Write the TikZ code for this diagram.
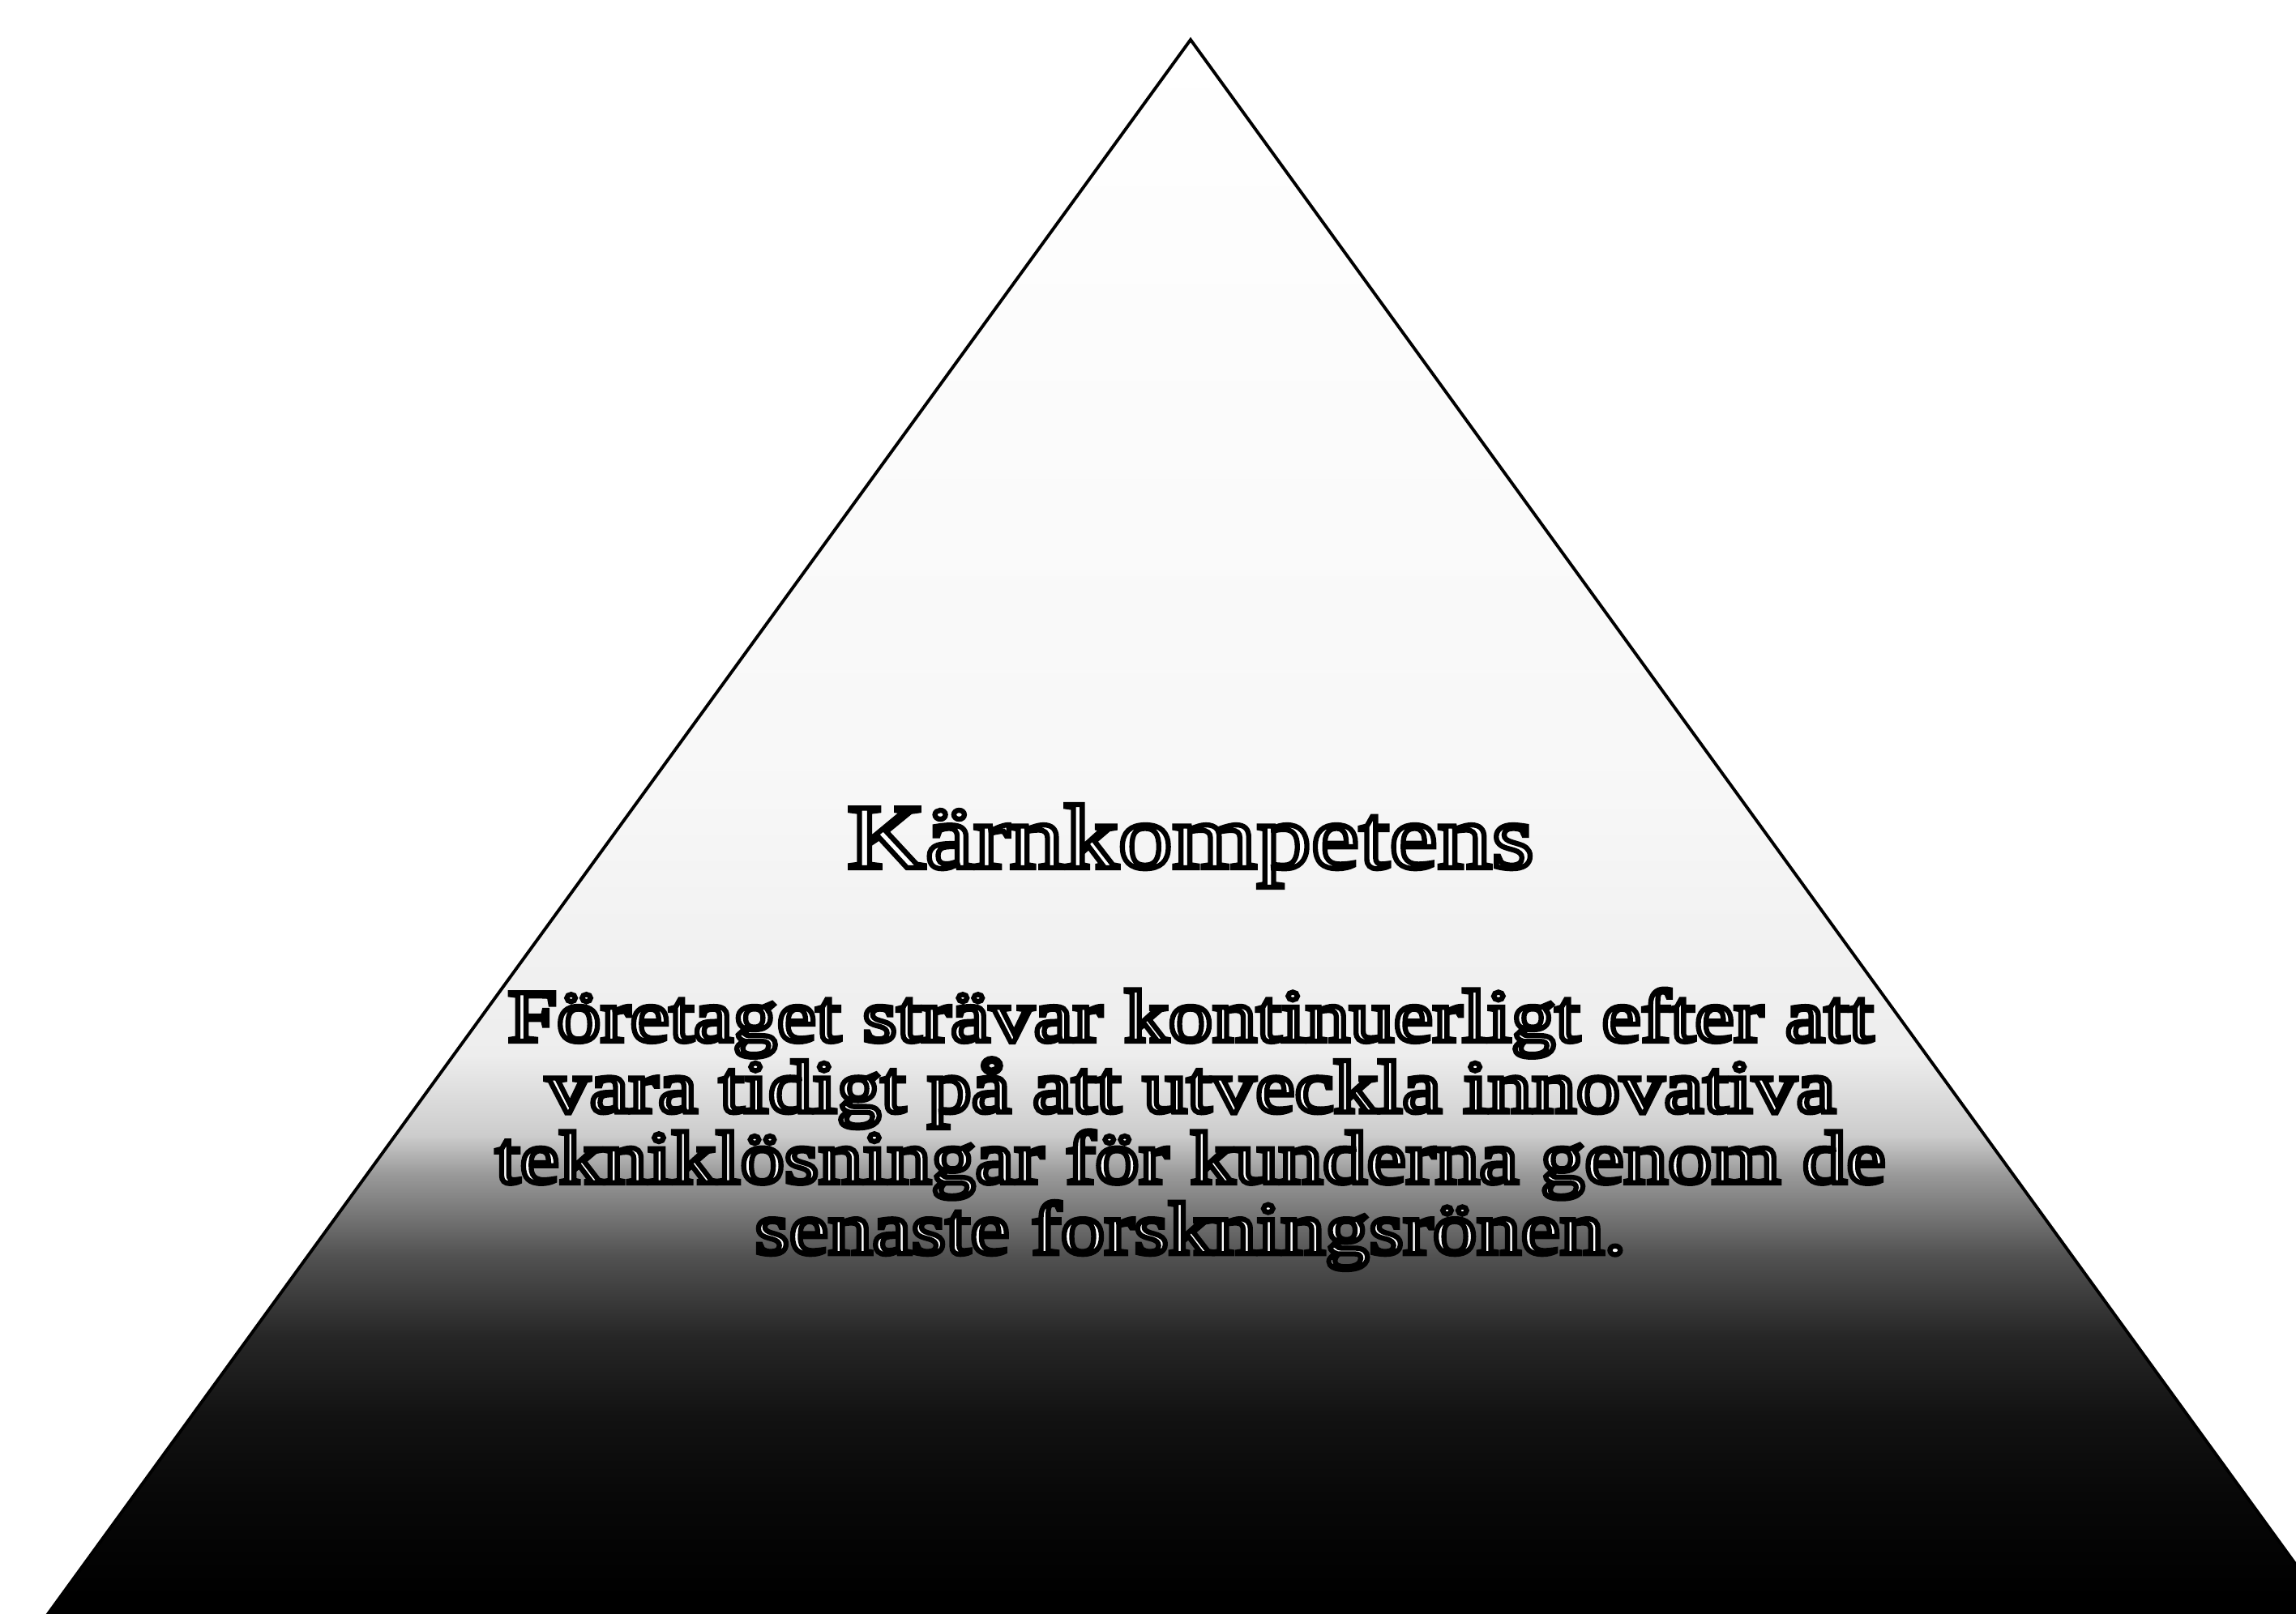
\documentclass[tikz,border=0pt]{standalone}
\usepackage{fontspec}
\setmainfont{Liberation Serif}[FakeStretch=1.19]
\usepackage{tikz}
\usetikzlibrary{positioning}
% white glyphs with a black outline (PDF text render mode 2)
\newcommand{\outlined}[1]{%
  \special{pdf:literal direct 2 Tr 1.8 w 0 G}#1\special{pdf:literal direct 0 Tr}}
% fade from white (top) to black (base)
\pgfdeclareverticalshading{pyrfade}{100bp}{%
  color(0bp)=(black); color(27bp)=(black); color(30bp)=(black!97);
  color(32.5bp)=(black!93); color(35bp)=(black!85); color(37.5bp)=(black!68);
  color(40bp)=(black!40); color(41.2bp)=(black!20); color(43.7bp)=(black!7);
  color(52bp)=(black!3); color(75bp)=(white); color(100bp)=(white)}
\tikzset{
  pyramid/.style={draw=black, line width=1.1pt, shading=pyrfade},
  headline/.style={font=\fontsize{32}{32}\selectfont, text=white, inner sep=0pt},
  bodyline/.style={font=\fontsize{26}{26}\selectfont, text=white, inner sep=0pt,
    text height=0.62cm, text depth=0.24cm}
}
\begin{document}
\begin{tikzpicture}
  \useasboundingbox (0,0) rectangle (28.33,-19.91);
  \clip (0,0) rectangle (28.33,-19.91);
  \coordinate (apex) at (14.69,-0.49);
  \coordinate (baseL) at (0.17,-20.5);
  \coordinate (baseR) at (29.19,-20.5);
  \path[pyramid] (apex) -- (baseR) -- (baseL) -- cycle;
  \node[headline] (title) at (14.69,-10.44) {\outlined{Kärnkompetens}};
  \node[bodyline] (l1) at (14.69,-12.66)
    {\outlined{Företaget strävar kontinuerligt efter att}};
  \node[bodyline, below=0pt of l1] (l2)
    {\outlined{vara tidigt på att utveckla innovativa}};
  \node[bodyline, below=0pt of l2] (l3)
    {\outlined{tekniklösningar för kunderna genom de}};
  \node[bodyline, below=0pt of l3] (l4)
    {\outlined{senaste forskningsrönen.}};
\end{tikzpicture}
\end{document}
